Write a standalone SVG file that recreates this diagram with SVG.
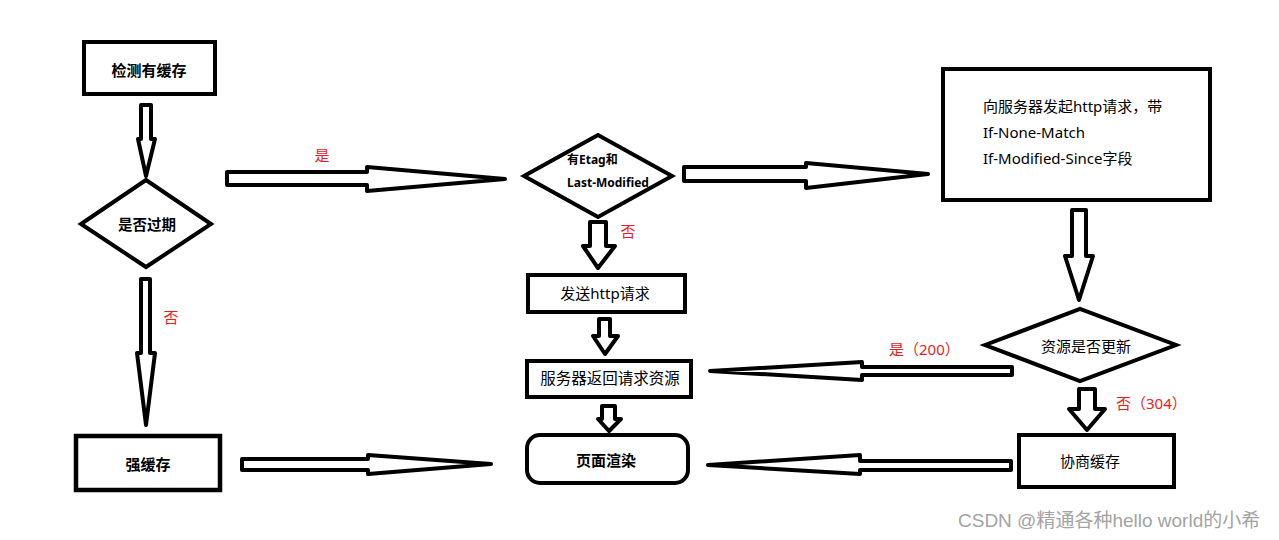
<svg xmlns="http://www.w3.org/2000/svg" width="1279" height="540" viewBox="0 0 1279 540">
<style>
.shape{fill:#fff;stroke:#000;stroke-width:4;stroke-linejoin:miter}
.arrow{fill:#fff;stroke:#000;stroke-width:4;stroke-linejoin:round}
.t{font-family:"Noto Sans","Noto Sans CJK SC",sans-serif;font-size:15px;fill:#000}
.b{font-weight:bold}
.c{text-anchor:middle}
.red{font-family:"Noto Sans","Noto Sans CJK SC",sans-serif;font-size:15px;fill:#ec1c24}
.wm{font-family:"Liberation Sans","Noto Sans CJK SC",sans-serif;font-size:19px;fill:#a3a3a3}
</style>
<rect width="1279" height="540" fill="#fff"/>
<g id="connectors">
<polygon class="arrow" points="141,105 151,105 151,139 155,139 146,176 138,139 141,139"/>
<polygon class="arrow" points="141,279 150,279 150,353 155,353 146,425 137,353 141,353"/>
<polygon class="arrow" points="227,172 367,172 367,167 505,179 367,191 367,185 227,185"/>
<polygon class="arrow" points="684,167 806,167 806,163 928,174 806,188 806,181 684,181"/>
<polygon class="arrow" points="590,222 606,222 606,246 615,246 598,268 583,246 590,246"/>
<polygon class="arrow" points="599,319 610,319 610,336 618,336 605,354 593,336 599,336"/>
<polygon class="arrow" points="602,406 615,406 615,419 621,419 609,431 598,419 602,419"/>
<polygon class="arrow" points="242,459 368,459 368,455 491,464 368,474 368,470 242,470"/>
<polygon class="arrow" points="1072,210 1086,210 1086,256 1093,256 1079,300 1065,256 1072,256"/>
<polygon class="arrow" points="1079,389 1095,389 1095,409 1105,409 1087,430 1069,409 1079,409"/>
<polygon class="arrow" points="1012,367 862,367 862,362 710,371 862,380 862,375 1012,375"/>
<polygon class="arrow" points="1011,461 860,461 860,455 708,465 860,474 860,470 1011,470"/>
<text class="red c" x="322" y="161">是</text>
<text class="red c" x="171" y="323">否</text>
<text class="red c" x="628" y="237">否</text>
<text class="red" x="889" y="355">是（200）</text>
<text class="red" x="1116" y="409">否（304）</text>
</g>
<g id="check-cache">
<rect class="shape" x="84" y="42" width="131" height="52"/>
<text class="t b c" x="149" y="76">检测有缓存</text>
</g>
<g id="expired">
<polygon class="shape" points="81,224 146,180 211,224 146,267"/>
<text class="t b c" x="147" y="230" style="font-size:14.5px">是否过期</text>
</g>
<g id="strong-cache">
<rect class="shape" x="76" y="436" width="144" height="54" style="stroke-width:4.5"/>
<text class="t b c" x="148" y="470">强缓存</text>
</g>
<g id="etag">
<polygon class="shape" points="524,176 598,135 672,176 598,217"/>
<text class="t b" x="567" y="164" style="font-size:12px">有Etag和</text>
<text class="t b" x="567" y="187" style="font-size:12px">Last-Modified</text>
</g>
<g id="send-request">
<rect class="shape" x="528" y="275" width="157" height="37"/>
<text class="t c" x="605" y="299">发送http请求</text>
</g>
<g id="server-return">
<rect class="shape" x="527" y="361" width="164" height="36"/>
<text class="t c" x="610" y="384" style="font-size:15.5px">服务器返回请求资源</text>
</g>
<g id="render">
<rect class="shape" x="527" y="435" width="161" height="48" rx="13" ry="13"/>
<text class="t b c" x="606" y="466">页面渲染</text>
</g>
<g id="conditional-request">
<rect class="shape" x="943" y="69" width="267" height="131"/>
<text class="t" x="983" y="112">向服务器发起http请求，带</text>
<text class="t" x="983" y="138">If-None-Match</text>
<text class="t" x="983" y="164">If-Modified-Since字段</text>
</g>
<g id="updated">
<polygon class="shape" points="985,345 1080,309 1176,345 1080,381"/>
<text class="t c" x="1086" y="352">资源是否更新</text>
</g>
<g id="negotiated-cache">
<rect class="shape" x="1019" y="435" width="155" height="52"/>
<text class="t c" x="1090" y="467">协商缓存</text>
</g>
<text class="wm" x="958" y="527">CSDN @精通各种hello world的小希</text>
</svg>
